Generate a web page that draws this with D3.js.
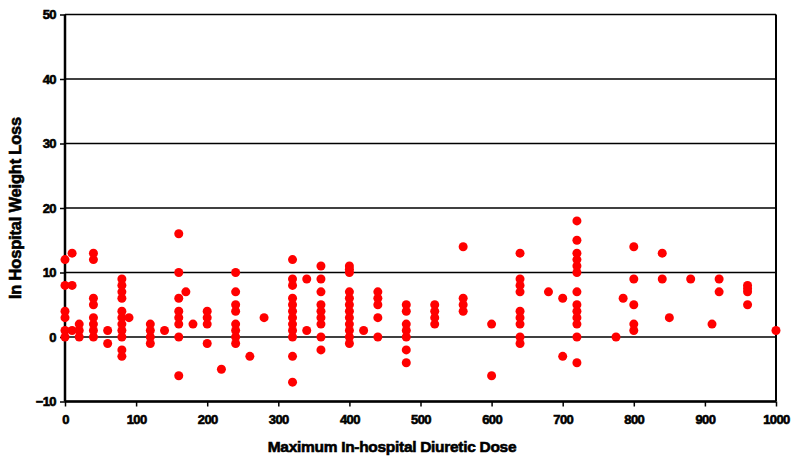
<!DOCTYPE html>
<html><head><meta charset="utf-8">
<script src="https://cdn.jsdelivr.net/npm/d3@7"></script>
<style>
html,body{margin:0;padding:0;background:#fff;}
text{font-family:"Liberation Sans",Arial,sans-serif;font-weight:bold;}
</style></head>
<body><svg id="c" width="800" height="467"></svg>
<script>
const doses = [0,10,20,40,60,80,90,120,140,160,170,180,200,220,240,260,280,320,340,360,400,420,440,480,520,560,600,640,680,700,720,775,785,800,840,850,880,910,920,960,1000];
const losses = [
  [12,8,4,3,1,0],
  [13,8,1],
  [2,1,0],
  [13,12,6,5,3,2,1,0],
  [1,-1],
  [9,8,7,6,4,3,2,1,0,-2,-3],
  [3],
  [2,1,0,-1],
  [1],
  [16,10,6,4,3,2,0,-6],
  [7],
  [2],
  [4,3,2,-1],
  [-5],
  [10,7,5,4,2,1,0,-1],
  [-3],
  [3],
  [12,9,8,6,5,4,3,2,1,0,-3,-7],
  [9,1],
  [11,9,7,5,4,3,2,0,-2],
  [11,10.5,10,7,6,5,4,3,2,1,0,-1],
  [1],
  [7,6,5,3,0],
  [5,4,2,1,0,-2,-4],
  [5,4,3,2],
  [14,6,5,4],
  [2,-6],
  [13,9,8,7,4,3,2,0,-1],
  [7],
  [6,-3],
  [18,15,13,12,11,10,7,5,4,3,2,0,-4],
  [0],
  [6],
  [14,9,5,2,1],
  [13,9],
  [3],
  [9],
  [2],
  [9,7],
  [8,7.5,7,5],
  [1]
];
const xTicks = [0,100,200,300,400,500,600,700,800,900,1000];
const yTicks = [-10,0,10,20,30,40,50];
const xTitle = "Maximum In-hospital Diuretic Dose";
const yTitle = "In Hospital Weight Loss";

const points = [];
doses.forEach((d,i)=>losses[i].forEach(v=>points.push({x:d,y:v})));

const svg = d3.select("#c");
const L=65, R=776, T=14.5, B=401.5;
const x = d3.scaleLinear().domain([0,1000]).range([L,R]);
const y = d3.scaleLinear().domain([-10,50]).range([B,T]);

svg.append("g").selectAll("line").data(yTicks).join("line")
  .attr("x1",L).attr("x2",R).attr("y1",d=>y(d)).attr("y2",d=>y(d))
  .attr("stroke","#000").attr("stroke-width",1.3);

svg.append("line").attr("x1",R).attr("x2",R).attr("y1",T).attr("y2",B)
  .attr("stroke","#000").attr("stroke-width",2);

const fmt = d3.format("d");
const yAxis = svg.append("g").attr("transform",`translate(${L},0)`)
  .call(d3.axisLeft(y).tickValues(yTicks).tickFormat(fmt).tickSize(5).tickPadding(4));
const xAxis = svg.append("g").attr("transform",`translate(0,${B})`)
  .call(d3.axisBottom(x).tickValues(xTicks).tickFormat(fmt).tickSize(5).tickPadding(8));
[yAxis,xAxis].forEach(a=>{
  a.select(".domain").attr("stroke","#000").attr("stroke-width",2.5);
  a.selectAll(".tick line").attr("stroke","#000").attr("stroke-width",1.5);
  a.selectAll("text").attr("fill","#000").attr("stroke","#000").attr("stroke-width",0.6)
   .style("font-size","13px").style("font-weight","bold").style("letter-spacing","-0.6px");
});
xAxis.select(".domain").attr("d",`M${L},0H${R}`);
yAxis.select(".domain").attr("d",`M0,${T}V${B}`);

svg.append("g").selectAll("circle").data(points).join("circle")
  .attr("cx",d=>x(d.x)).attr("cy",d=>y(d.y)).attr("r",4.5)
  .attr("fill","#ff0000");

svg.append("text").attr("x",392).attr("y",452).attr("text-anchor","middle")
  .attr("stroke","#000").attr("stroke-width",0.6)
  .style("font-size","15.5px").style("letter-spacing","-0.3px").text(xTitle);
svg.append("text").attr("transform","translate(21,208) rotate(-90)")
  .attr("text-anchor","middle").attr("stroke","#000").attr("stroke-width",0.6)
  .style("font-size","16.5px").style("letter-spacing","-0.2px").text(yTitle);
</script></body></html>
